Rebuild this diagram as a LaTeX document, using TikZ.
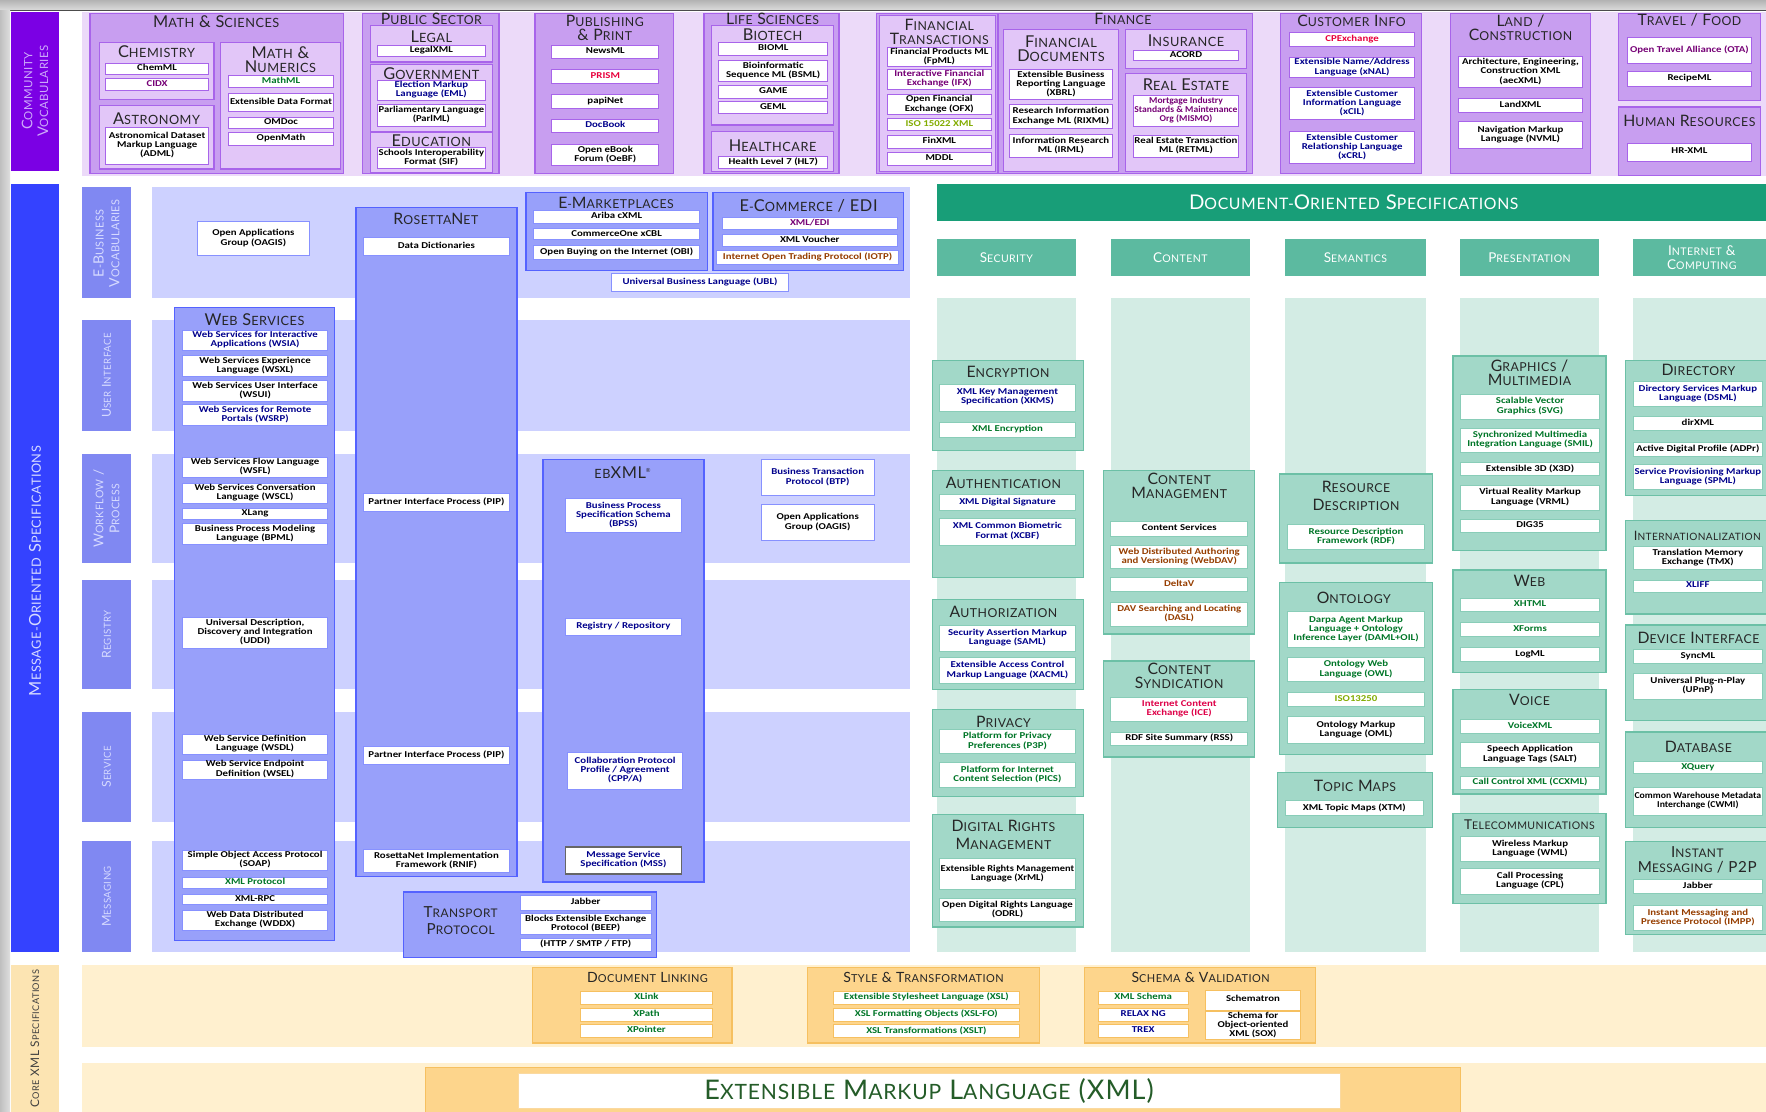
\documentclass[tikz,border=0pt]{standalone}
\usepackage{graphicx}
\usepackage{fontspec}
\setmainfont{Carlito}
\newfontfamily\ttlfont[LetterSpace=4]{Lato}
\newfontfamily\itemfont[FakeStretch=1.2]{Carlito}

% palette
\definecolor{cvlabel}{RGB}{123,0,228}
\definecolor{cvtext}{RGB}{205,170,250}
\definecolor{cvband}{RGB}{236,218,249}
\definecolor{cvgroup}{RGB}{200,158,240}
\definecolor{cvsub}{RGB}{226,198,248}
\definecolor{cvline}{RGB}{168,100,234}
\definecolor{molabel}{RGB}{52,66,255}
\definecolor{motext}{RGB}{214,218,255}
\definecolor{morow}{RGB}{128,136,242}
\definecolor{moband}{RGB}{205,209,255}
\definecolor{mogroup}{RGB}{152,160,250}
\definecolor{moline}{RGB}{84,98,255}
\definecolor{dohead}{RGB}{24,158,120}
\definecolor{docol}{RGB}{92,186,160}
\definecolor{dobg}{RGB}{211,236,228}
\definecolor{dobox}{RGB}{162,216,200}
\definecolor{doline}{RGB}{108,192,166}
\definecolor{cxlabel}{RGB}{252,228,178}
\definecolor{cxband}{RGB}{255,240,207}
\definecolor{cxbox}{RGB}{253,213,140}
\definecolor{cxline}{RGB}{246,192,96}
\definecolor{tnavy}{RGB}{0,0,140}
\definecolor{tgreen}{RGB}{0,118,40}
\definecolor{tred}{RGB}{232,0,60}
\definecolor{tpurple}{RGB}{118,0,118}
\definecolor{tbrown}{RGB}{150,62,0}
\definecolor{tolive}{RGB}{130,172,0}
\definecolor{tcrimson}{RGB}{222,0,72}
\definecolor{xmlgreen}{RGB}{36,92,40}

% small capitals built by hand: capitals at full size, lower case as smaller capitals
\makeatletter
\newcommand\sct[1]{\sct@w#1 \@nil}
\def\sct@w#1 #2\@nil{\sct@l#1\@nil\ifx\relax#2\relax\else\ \sct@w#2\@nil\fi}
\def\sct@l#1{\ifx#1\@nil\else\sct@ch#1\expandafter\sct@l\fi}
\def\sct@ch#1{\ifnum\lccode`#1=`#1\relax{\sct@small\uppercase{#1}}\else#1\fi}
\def\sct@small{\dimen@=\f@size pt\dimen@=.78\dimen@\edef\sct@s{\strip@pt\dimen@}\fontsize\sct@s\sct@s\selectfont}
\makeatother

% centred lines, squeezed sideways when wider than #1 (pt)
\newsavebox\qbox
\newcommand\qfit[2]{\sbox\qbox{\begin{tabular}{@{}c@{}}#2\end{tabular}}%
  \ifdim\wd\qbox>#1pt\relax\pgfmathsetmacro\qf{#1/\the\wd\qbox}\scalebox{\qf}[1]{\usebox\qbox}\else\usebox\qbox\fi}
% white entry box: [text colour]{name}{x1}{y1}{x2}{y2}{text}
\newcommand\itm[7][black]{%
  \pgfmathsetmacro\qmax{#5-#3-2.5}%
  \node[item,text=#1,minimum width={#5-#3},minimum height={#6-#4}] (#2) at ({(#3+#5)/2},{(#4+#6)/2}) {\qfit{\qmax}{#7}};}
% coloured frame: {style}{name}{x1}{y1}{x2}{y2}
\newcommand\grp[6]{\node[#1,inner sep=0pt,minimum width={#5-#3},minimum height={#6-#4}] (#2) at ({(#3+#5)/2},{(#4+#6)/2}) {};}

\begin{document}
\begin{tikzpicture}[x=1pt,y=-1pt,
  itembase/.style={rectangle,fill=white,line width=0.8pt,inner sep=0.3pt,
    font=\itemfont\bfseries\fontsize{8}{7.8}\selectfont},
  item/.style={itembase,draw=cvline},
  cvgrp/.style={rectangle,fill=cvgroup,draw=cvline,line width=1.2pt},
  cvsubg/.style={rectangle,fill=cvsub,draw=cvline,line width=1pt},
  mogrp/.style={rectangle,fill=mogroup,draw=moline,line width=1.2pt},
  dogrp/.style={rectangle,fill=dobox,draw=doline,line width=1.2pt},
  cxgrp/.style={rectangle,fill=cxbox,draw=cxline,line width=1.2pt},
  ttl/.style={inner sep=0pt,align=center,text=black!85,font=\ttlfont\fontsize{14.5}{12.5}\selectfont},
  ttls/.style={ttl,font=\ttlfont\fontsize{14}{12.5}\selectfont},
  dttl/.style={ttl,font=\ttlfont\fontsize{14}{13}\selectfont},
  colh/.style={inner sep=0pt,align=center,text=white,font=\ttlfont\fontsize{12}{12.5}\selectfont},
  rowlab/.style={rotate=90,inner sep=0pt,align=center,text=motext,font=\ttlfont\fontsize{11}{12}\selectfont},
  xttl/.style={ttl,font=\ttlfont\fontsize{12.5}{13}\selectfont}]

\useasboundingbox (0,0) rectangle (1568,987);
\clip (0,0) rectangle (1568,987);

% frame
\shade[top color=gray!60,bottom color=gray!28] (0,0) rectangle (1568,9);
\draw[gray!60!black,line width=1pt] (0,9.5) -- (1568,9.5);
\shade[left color=gray!50,right color=gray!25] (0,9) rectangle (9,987);

% ================= community vocabularies =================
\fill[cvlabel] (10,11) rectangle (52,152);
\node[rotate=90,inner sep=0pt,align=center,text=cvtext,font=\ttlfont\fontsize{13}{14}\selectfont] (cvlab) at (31,81) {\sct{Community}\\\sct{Vocabularies}};
\fill[cvband] (73,11) rectangle (1568,156);

\begin{scope}[item/.style={itembase,draw=cvline}]
\grp{cvgrp}{ms}{80}{12}{305}{154}
\node[ttl] (ms-t) at (192,19.5) {\sct{Math \& Sciences}};
\grp{cvsubg}{chem}{88}{38}{190}{88}
\node[ttl] (chem-t) at (139,46) {\sct{Chemistry}};
\itm{chemml}{94}{56}{185}{66}{ChemML}
\itm[tpurple]{cidx}{94}{70}{185}{80}{CIDX}
\grp{cvsubg}{astro}{88}{94}{190}{150}
\node[ttl] (astro-t) at (139,105) {\sct{Astronomy}};
\itm{adml}{94}{113}{185}{146}{Astronomical Dataset\\Markup Language\\(ADML)}
\grp{cvsubg}{mathnum}{196}{38}{302}{150}
\node[ttl] (mathnum-t) at (249,53) {\sct{Math \&}\\\sct{Numerics}};
\itm[tgreen]{mathml}{203}{67}{296}{78}{MathML}
\itm{xdf}{203}{83}{296}{99}{Extensible Data Format}
\itm{omdoc}{203}{104}{296}{114}{OMDoc}
\itm{openmath}{203}{118}{296}{129}{OpenMath}

\grp{cvgrp}{pub}{322}{12}{443}{154}
\node[ttls] (pub-t) at (383,17) {\sct{Public Sector}};
\grp{cvsubg}{legal}{329}{23}{437}{55}
\node[ttl] (legal-t) at (383,33) {\sct{Legal}};
\itm{legalxml}{335}{40}{431}{50}{LegalXML}
\grp{cvsubg}{gov}{329}{57}{437}{117}
\node[ttl] (gov-t) at (383,65) {\sct{Government}};
\itm[tnavy]{eml}{335}{71}{431}{89}{Election Markup\\Language (EML)}
\itm{parlml}{335}{93}{431}{112}{Parliamentary Language\\(ParlML)}
\grp{cvsubg}{edu}{329}{118}{437}{153}
\node[ttl] (edu-t) at (383,125) {\sct{Education}};
\itm{sif}{335}{131}{431}{150}{Schools Interoperability\\Format (SIF)}

\grp{cvgrp}{publ}{475}{12}{598}{154}
\node[ttls] (publ-t) at (537,24.5) {\sct{Publishing}\\\sct{\& Print}};
\itm{newsml}{490}{40}{585}{52}{NewsML}
\itm[tred]{prism}{490}{62}{585}{74}{PRISM}
\itm{papinet}{490}{84}{585}{96}{papiNet}
\itm[tnavy]{docbook}{490}{106}{585}{118}{DocBook}
\itm{oebf}{490}{128}{585}{147}{Open eBook\\Forum (OeBF)}

\grp{cvgrp}{life}{625}{12}{745}{154}
\node[ttls] (life-t) at (686,17) {\sct{Life Sciences}};
\grp{cvsubg}{bio}{632}{23}{740}{111}
\node[ttl] (bio-t) at (686,31) {\sct{Biotech}};
\itm{bioml}{638}{38}{735}{49}{BIOML}
\itm{bsml}{638}{54}{735}{72}{Bioinformatic\\Sequence ML (BSML)}
\itm{game}{638}{76}{735}{87}{GAME}
\itm{geml}{638}{90}{735}{101}{GEML}
\grp{cvsubg}{health}{632}{117}{740}{152}
\node[ttl] (health-t) at (686,129) {\sct{Healthcare}};
\itm{hl7}{638}{139}{735}{150}{Health Level 7 (HL7)}

\grp{cvgrp}{finall}{778}{12}{1112}{154}
\grp{cvsubg}{ftx}{781}{14}{884}{152}
\node[ttls] (ftx-t) at (834,28) {\sct{Financial}\\\sct{Transactions}};
\itm{fpml}{788}{42}{880}{59}{Financial Products ML\\(FpML)}
\itm[tpurple]{ifx}{788}{62}{880}{79}{Interactive Financial\\Exchange (IFX)}
\itm{ofx}{788}{84}{880}{102}{Open Financial\\Exchange (OFX)}
\itm[tolive]{iso15022}{788}{105}{880}{116}{ISO 15022 XML}
\itm{finxml}{788}{120}{880}{132}{FinXML}
\itm{mddl}{788}{135}{880}{147}{MDDL}
\grp{cvgrp}{fin}{886}{12}{1112}{154}
\node[ttls] (fin-t) at (997,17) {\sct{Finance}};
\grp{cvsubg}{findoc}{891}{26}{993}{152}
\node[ttl] (findoc-t) at (942,43) {\sct{Financial}\\\sct{Documents}};
\itm{xbrl}{896}{62}{988}{88}{Extensible Business\\Reporting Language\\(XBRL)}
\itm{rixml}{896}{93}{988}{114}{Research Information\\Exchange ML (RIXML)}
\itm{irml}{896}{119}{988}{140}{Information Research\\ML (IRML)}
\grp{cvsubg}{insur}{999}{26}{1107}{61}
\node[ttl] (insur-t) at (1053,36) {\sct{Insurance}};
\itm{acord}{1006}{45}{1100}{54}{ACORD}
\grp{cvsubg}{reale}{999}{65}{1107}{152}
\node[ttl] (reale-t) at (1053,75) {\sct{Real Estate}};
\itm[tpurple]{mismo}{1006}{85}{1100}{112}{Mortgage Industry\\Standards \& Maintenance\\Org (MISMO)}
\itm{retml}{1006}{120}{1100}{140}{Real Estate Transaction\\ML (RETML)}

\grp{cvgrp}{cust}{1137}{12}{1262}{154}
\node[ttls] (cust-t) at (1200,18.5) {\sct{Customer Info}};
\itm[tred]{cpx}{1145}{29}{1256}{41}{CPExchange}
\itm[tnavy]{xnal}{1145}{51}{1256}{69}{Extensible Name/Address\\Language (xNAL)}
\itm[tnavy]{xcil}{1145}{78}{1256}{106}{Extensible Customer\\Information Language\\(xCIL)}
\itm[tnavy]{xcrl}{1145}{117}{1256}{145}{Extensible Customer\\Relationship Language\\(xCRL)}

\grp{cvgrp}{land}{1288}{12}{1412}{154}
\node[ttls] (land-t) at (1350,25) {\sct{Land /}\\\sct{Construction}};
\itm{aecxml}{1295}{50}{1405}{78}{Architecture, Engineering,\\Construction XML\\(aecXML)}
\itm{landxml}{1295}{87}{1405}{100}{LandXML}
\itm{nvml}{1295}{108}{1405}{132}{Navigation Markup\\Language (NVML)}

\grp{cvgrp}{travel}{1437}{12}{1563}{89}
\node[ttls] (travel-t) at (1500,17.5) {\sct{Travel / Food}};
\itm[tpurple]{ota}{1445}{33}{1555}{56}{Open Travel Alliance (OTA)}
\itm{recipeml}{1445}{63}{1555}{77}{RecipeML}
\grp{cvgrp}{hr}{1437}{95}{1563}{156}
\node[ttls] (hr-t) at (1500,107) {\sct{Human Resources}};
\itm{hrxml}{1445}{127}{1555}{143}{HR-XML}
\end{scope}

% ================= message-oriented specifications =================
\fill[molabel] (10,163) rectangle (52,845);
\node[rotate=90,inner sep=0pt,text=motext,font=\ttlfont\fontsize{14.5}{15}\selectfont] (molab) at (31,507) {\sct{Message-Oriented Specifications}};

\fill[morow] (73,166) rectangle (116,265);
\fill[morow] (73,284) rectangle (116,383);
\fill[morow] (73,403) rectangle (116,500);
\fill[morow] (73,515) rectangle (116,612);
\fill[morow] (73,632) rectangle (116,730);
\fill[morow] (73,747) rectangle (116,845);
\node[rowlab,font=\ttlfont\fontsize{12.5}{14}\selectfont] (row1) at (94.5,216) {\sct{E-Business}\\\sct{Vocabularies}};
\node[rowlab] (row2) at (94.5,333.5) {\sct{User Interface}};
\node[rowlab,font=\ttlfont\fontsize{12}{14}\selectfont] (row3) at (94.5,451.5) {\sct{Workflow /}\\\sct{Process}};
\node[rowlab] (row4) at (94.5,563.5) {\sct{Registry}};
\node[rowlab] (row5) at (94.5,681) {\sct{Service}};
\node[rowlab] (row6) at (94.5,796) {\sct{Messaging}};

\fill[moband] (135,166) rectangle (808,265);
\fill[moband] (135,284) rectangle (808,383);
\fill[moband] (135,403) rectangle (808,500);
\fill[moband] (135,515) rectangle (808,612);
\fill[moband] (135,632) rectangle (808,730);
\fill[moband] (135,747) rectangle (808,845);

\begin{scope}[item/.style={itembase,draw=moline!70}]
\itm{oagis1}{175}{197}{275}{227}{Open Applications\\Group (OAGIS)}

\grp{mogrp}{rosetta}{316}{184}{459}{778}
\node[ttls] (rosetta-t) at (387,194) {\sct{RosettaNet}};
\itm{datadict}{323}{211}{452}{227}{Data Dictionaries}
\itm{pip1}{323}{438}{452}{454}{Partner Interface Process (PIP)}
\itm{pip2}{323}{663}{452}{679}{Partner Interface Process (PIP)}
\itm{rnif}{323}{754}{452}{775}{RosettaNet Implementation\\Framework (RNIF)}

\grp{mogrp}{ws}{155}{273}{297}{835}
\node[ttl] (ws-t) at (226,283.5) {\sct{Web Services}};
\itm[tnavy]{wsia}{162}{293}{291}{311}{Web Services for Interactive\\Applications (WSIA)}
\itm{wsxl}{162}{316}{291}{334}{Web Services Experience\\Language (WSXL)}
\itm{wsui}{162}{338}{291}{356}{Web Services User Interface\\(WSUI)}
\itm[tnavy]{wsrp}{162}{359}{291}{378}{Web Services for Remote\\Portals (WSRP)}
\itm{wsfl}{162}{406}{291}{424}{Web Services Flow Language\\(WSFL)}
\itm{wscl}{162}{429}{291}{447}{Web Services Conversation\\Language (WSCL)}
\itm{xlang}{162}{451}{291}{461}{XLang}
\itm{bpml}{162}{465}{291}{483}{Business Process Modeling\\Language (BPML)}
\itm{uddi}{162}{548}{291}{576}{Universal Description,\\Discovery and Integration\\(UDDI)}
\itm{wsdl}{162}{652}{291}{670}{Web Service Definition\\Language (WSDL)}
\itm{wsel}{162}{675}{291}{692}{Web Service Endpoint\\Definition (WSEL)}
\itm{soap}{162}{755}{291}{773}{Simple Object Access Protocol\\(SOAP)}
\itm[tgreen]{xmlp}{162}{779}{291}{789}{XML Protocol}
\itm{xmlrpc}{162}{794}{291}{803}{XML-RPC}
\itm{wddx}{162}{808}{291}{826}{Web Data Distributed\\Exchange (WDDX)}

\grp{mogrp}{emkt}{467}{171}{628}{240}
\node[ttls] (emkt-t) at (547,180.5) {\sct{E-Marketplaces}};
\itm{cxml}{474}{187}{621}{198}{Ariba cXML}
\itm{xcbl}{474}{203}{621}{213}{CommerceOne xCBL}
\itm{obi}{474}{218}{621}{230}{Open Buying on the Internet (OBI)}

\grp{mogrp}{ecom}{633}{171}{802}{240}
\node[ttl] (ecom-t) at (718,183) {\sct{E-Commerce / EDI}};
\itm[tpurple]{xmledi}{641}{193}{797}{204}{XML/EDI}
\itm{voucher}{641}{208}{797}{219}{XML Voucher}
\itm[tbrown]{iotp}{636}{222}{798}{235}{Internet Open Trading Protocol (IOTP)}
\itm[tnavy]{ubl}{543}{243}{700}{259}{Universal Business Language (UBL)}

\grp{mogrp}{ebxml}{482}{408}{625}{783}
\node[ttl] (ebxml-t) at (553,419.5) {\sct{ebXML}\textsuperscript{\tiny\textregistered}};
\itm[tnavy]{bpss}{502}{443}{605}{473}{Business Process\\Specification Schema\\(BPSS)}
\itm[tnavy]{regrep}{502}{549}{605}{564}{Registry / Repository}
\itm[tnavy]{cppa}{504}{668}{606}{701}{Collaboration Protocol\\Profile / Agreement\\(CPP/A)}
\begin{scope}[item/.style={itembase,draw=gray!80!black,line width=1.3pt}]
\itm[tnavy]{mss}{502}{752}{605}{776}{Message Service\\Specification (MSS)}
\end{scope}

\itm[tnavy]{btp}{676}{408}{776}{440}{Business Transaction\\Protocol (BTP)}
\itm{oagis2}{676}{448}{776}{480}{Open Applications\\Group (OAGIS)}

\grp{mogrp}{tp}{358}{792}{583}{850}
\node[ttl,font=\ttlfont\fontsize{13.5}{14}\selectfont] (tp-t) at (409,817) {\sct{Transport}\\[1pt]\sct{Protocol}};
\itm{jabber1}{462}{795}{578}{808}{Jabber}
\itm{beep}{462}{811}{578}{830}{Blocks Extensible Exchange\\Protocol (BEEP)}
\itm{http}{462}{833}{578}{845}{(HTTP / SMTP / FTP)}
\end{scope}

% ================= document-oriented specifications =================
\fill[dohead] (832,163) rectangle (1568,196);
\node[inner sep=0pt,text=white,font=\ttlfont\fontsize{18}{19}\selectfont] (dohead-t) at (1202,180) {\sct{Document-Oriented Specifications}};

\foreach \xa/\xb in {832/955,986/1110,1141/1266,1296/1420,1450/1580}{
  \fill[docol] (\xa,212) rectangle (\xb,245);
  \fill[dobg] (\xa,265) rectangle (\xb,845);
}
\node[colh] (col1) at (893.5,228.5) {\sct{Security}};
\node[colh] (col2) at (1048,228.5) {\sct{Content}};
\node[colh] (col3) at (1203.5,228.5) {\sct{Semantics}};
\node[colh] (col4) at (1358,228.5) {\sct{Presentation}};
\node[colh] (col5) at (1511,229) {\sct{Internet \&}\\\sct{Computing}};

\begin{scope}[item/.style={itembase,draw=doline!80}]
\grp{dogrp}{enc}{828}{320}{962}{400}
\node[dttl] (enc-t) at (895,330.5) {\sct{Encryption}};
\itm[tnavy]{xkms}{834}{341}{955}{365}{XML Key Management\\Specification (XKMS)}
\itm[tgreen]{xmlenc}{834}{375}{955}{388}{XML Encryption}

\grp{dogrp}{auth}{828}{418}{962}{513}
\node[dttl] (auth-t) at (891,428.5) {\sct{Authentication}};
\itm[tnavy]{xmldsig}{834}{439}{955}{453}{XML Digital Signature}
\itm[tnavy]{xcbf}{834}{460}{955}{484}{XML Common Biometric\\Format (XCBF)}

\grp{dogrp}{authz}{828}{532}{962}{612}
\node[dttl] (authz-t) at (891,543.5) {\sct{Authorization}};
\itm[tnavy]{saml}{834}{555}{955}{578}{Security Assertion Markup\\Language (SAML)}
\itm[tnavy]{xacml}{834}{584}{955}{607}{Extensible Access Control\\Markup Language (XACML)}

\grp{dogrp}{priv}{828}{630}{962}{707}
\node[dttl] (priv-t) at (891,641) {\sct{Privacy}};
\itm[tgreen]{p3p}{834}{648}{955}{669}{Platform for Privacy\\Preferences (P3P)}
\itm[tgreen]{pics}{834}{677}{955}{699}{Platform for Internet\\Content Selection (PICS)}

\grp{dogrp}{drm}{828}{723}{962}{823}
\node[dttl] (drm-t) at (891,741.5) {\sct{Digital Rights}\\[3pt]\sct{Management}};
\itm{xrml}{834}{762}{955}{790}{Extensible Rights Management\\Language (XrML)}
\itm{odrl}{834}{798}{955}{818}{Open Digital Rights Language\\(ODRL)}

\grp{dogrp}{cm}{980}{418}{1114}{563}
\node[dttl] (cm-t) at (1047,431.5) {\sct{Content}\\\sct{Management}};
\itm{csvc}{986}{463}{1108}{476}{Content Services}
\itm[tbrown]{webdav}{986}{484}{1108}{505}{Web Distributed Authoring\\and Versioning (WebDAV)}
\itm[tbrown]{deltav}{986}{513}{1108}{525}{DeltaV}
\itm[tbrown]{dasl}{986}{535}{1108}{556}{DAV Searching and Locating\\(DASL)}

\grp{dogrp}{csyn}{980}{587}{1114}{672}
\node[dttl] (csyn-t) at (1047,600) {\sct{Content}\\\sct{Syndication}};
\itm[tcrimson]{ice}{986}{619}{1108}{641}{Internet Content\\Exchange (ICE)}
\itm{rss}{986}{650}{1108}{662}{RDF Site Summary (RSS)}

\grp{dogrp}{rd}{1136}{421}{1272}{500}
\node[dttl] (rd-t) at (1204,440) {\sct{Resource}\\[3pt]\sct{Description}};
\itm[tgreen]{rdf}{1143}{466}{1265}{488}{Resource Description\\Framework (RDF)}

\grp{dogrp}{onto}{1136}{517}{1272}{670}
\node[dttl] (onto-t) at (1202,531) {\sct{Ontology}};
\itm[tgreen]{daml}{1143}{543}{1265}{575}{Darpa Agent Markup\\Language + Ontology\\Inference Layer (DAML+OIL)}
\itm[tgreen]{owl}{1143}{584}{1265}{605}{Ontology Web\\Language (OWL)}
\itm[tolive]{iso13250}{1143}{615}{1265}{627}{ISO13250}
\itm{oml}{1143}{636}{1265}{660}{Ontology Markup\\Language (OML)}

\grp{dogrp}{tmaps}{1134}{686}{1272}{735}
\node[dttl] (tmaps-t) at (1203,697.5) {\sct{Topic Maps}};
\itm{xtm}{1141}{711}{1264}{724}{XML Topic Maps (XTM)}

\grp{dogrp}{gfx}{1290}{316}{1426}{489}
\node[dttl] (gfx-t) at (1358,331) {\sct{Graphics /}\\\sct{Multimedia}};
\itm[tgreen]{svg}{1297}{350}{1420}{372}{Scalable Vector\\Graphics (SVG)}
\itm[tgreen]{smil}{1297}{380}{1420}{402}{Synchronized Multimedia\\Integration Language (SMIL)}
\itm{x3d}{1297}{411}{1420}{422}{Extensible 3D (X3D)}
\itm{vrml}{1297}{431}{1420}{453}{Virtual Reality Markup\\Language (VRML)}
\itm{dig35}{1297}{461}{1420}{473}{DIG35}

\grp{dogrp}{web}{1290}{506}{1426}{597}
\node[dttl] (web-t) at (1358,515.5) {\sct{Web}};
\itm[tgreen]{xhtml}{1297}{531}{1420}{543}{XHTML}
\itm[tgreen]{xforms}{1297}{553}{1420}{565}{XForms}
\itm{logml}{1297}{575}{1420}{587}{LogML}

\grp{dogrp}{voice}{1290}{612}{1426}{705}
\node[dttl] (voice-t) at (1358,621.5) {\sct{Voice}};
\itm[tgreen]{vxml}{1297}{639}{1420}{651}{VoiceXML}
\itm{salt}{1297}{659}{1420}{681}{Speech Application\\Language Tags (SALT)}
\itm[tgreen]{ccxml}{1297}{689}{1420}{701}{Call Control XML (CCXML)}

\grp{dogrp}{tel}{1290}{722}{1426}{802}
\node[dttl,font=\ttlfont\fontsize{12}{12}\selectfont] (tel-t) at (1358,732) {\sct{Telecommunications}};
\itm{wml}{1297}{743}{1420}{765}{Wireless Markup\\Language (WML)}
\itm{cpl}{1297}{771}{1420}{794}{Call Processing\\Language (CPL)}

\grp{dogrp}{dir}{1443}{320}{1580}{440}
\node[dttl] (dir-t) at (1508,328.5) {\sct{Directory}};
\itm[tnavy]{dsml}{1450}{339}{1565}{361}{Directory Services Markup\\Language (DSML)}
\itm{dirxml}{1450}{370}{1565}{382}{dirXML}
\itm{adpr}{1450}{393}{1565}{405}{Active Digital Profile (ADPr)}
\itm[tnavy]{spml}{1450}{412}{1565}{435}{Service Provisioning Markup\\Language (SPML)}

\grp{dogrp}{intl}{1443}{462}{1580}{545}
\node[dttl,font=\ttlfont\fontsize{11.5}{12}\selectfont] (intl-t) at (1507,476) {\sct{Internationalization}};
\itm{tmx}{1450}{485}{1565}{506}{Translation Memory\\Exchange (TMX)}
\itm[tnavy]{xliff}{1450}{515}{1565}{526}{XLIFF}

\grp{dogrp}{devif}{1443}{555}{1580}{640}
\node[dttl] (devif-t) at (1508,566) {\sct{Device Interface}};
\itm{syncml}{1450}{577}{1565}{589}{SyncML}
\itm{upnp}{1450}{598}{1565}{621}{Universal Plug-n-Play\\(UPnP)}

\grp{dogrp}{db}{1443}{650}{1580}{735}
\node[dttl] (db-t) at (1508,663.5) {\sct{Database}};
\itm[tgreen]{xquery}{1450}{676}{1565}{687}{XQuery}
\itm{cwmi}{1450}{699}{1565}{724}{Common Warehouse Metadata\\Interchange (CWMI)}

\grp{dogrp}{im}{1443}{747}{1580}{830}
\node[dttl,font=\ttlfont\fontsize{13.5}{13}\selectfont] (im-t) at (1507,763.5) {\sct{Instant}\\\sct{Messaging / P2P}};
\itm{jabber2}{1450}{781}{1565}{793}{Jabber}
\itm[tbrown]{impp}{1450}{804}{1565}{826}{Instant Messaging and\\Presence Protocol (IMPP)}
\end{scope}

% ================= core XML specifications =================
\fill[cxlabel] (10,857) rectangle (52,987);
\node[rotate=90,inner sep=0pt,text=black!75,font=\ttlfont\fontsize{10.5}{11}\selectfont] (cxlab) at (31,922) {\sct{Core XML Specifications}};
\fill[cxband] (73,857) rectangle (1568,930);
\fill[cxband] (73,944) rectangle (1568,987);

\begin{scope}[item/.style={itembase,draw=cxline}]
\grp{cxgrp}{dlink}{473}{859}{650}{926}
\node[xttl] (dlink-t) at (575,867.5) {\sct{Document Linking}};
\itm[tgreen]{xlink}{515}{880}{633}{892}{XLink}
\itm[tgreen]{xpath}{515}{895}{633}{907}{XPath}
\itm[tgreen]{xpointer}{515}{910}{633}{921}{XPointer}

\grp{cxgrp}{style}{717}{859}{923}{926}
\node[xttl] (style-t) at (820,868) {\sct{Style \& Transformation}};
\itm[tgreen]{xsl}{740}{880}{905}{892}{Extensible Stylesheet Language (XSL)}
\itm[tgreen]{xslfo}{740}{895}{905}{907}{XSL Formatting Objects (XSL-FO)}
\itm[tgreen]{xslt}{740}{910}{905}{921}{XSL Transformations (XSLT)}

\grp{cxgrp}{schema}{963}{859}{1168}{926}
\node[xttl] (schema-t) at (1066,868) {\sct{Schema \& Validation}};
\itm[tgreen]{xsd}{975}{880}{1055}{892}{XML Schema}
\itm[tnavy]{relaxng}{975}{895}{1055}{907}{RELAX NG}
\itm[tnavy]{trex}{975}{910}{1055}{921}{TREX}
\itm{schematron}{1070}{879}{1155}{897}{Schematron}
\itm{sox}{1070}{900}{1155}{921}{Schema for\\Object-oriented\\XML (SOX)}

\grp{cxgrp}{xmlbar}{378}{948}{1297}{995}
\node[rectangle,fill=white,draw=cxline!60,line width=0.6pt,minimum width=730,minimum height=31,inner sep=0pt,text=xmlgreen,font=\ttlfont\fontsize{24}{25}\selectfont] (xml) at (825,968.5) {\sct{Extensible Markup Language (XML)}};
\end{scope}

\end{tikzpicture}
\end{document}
